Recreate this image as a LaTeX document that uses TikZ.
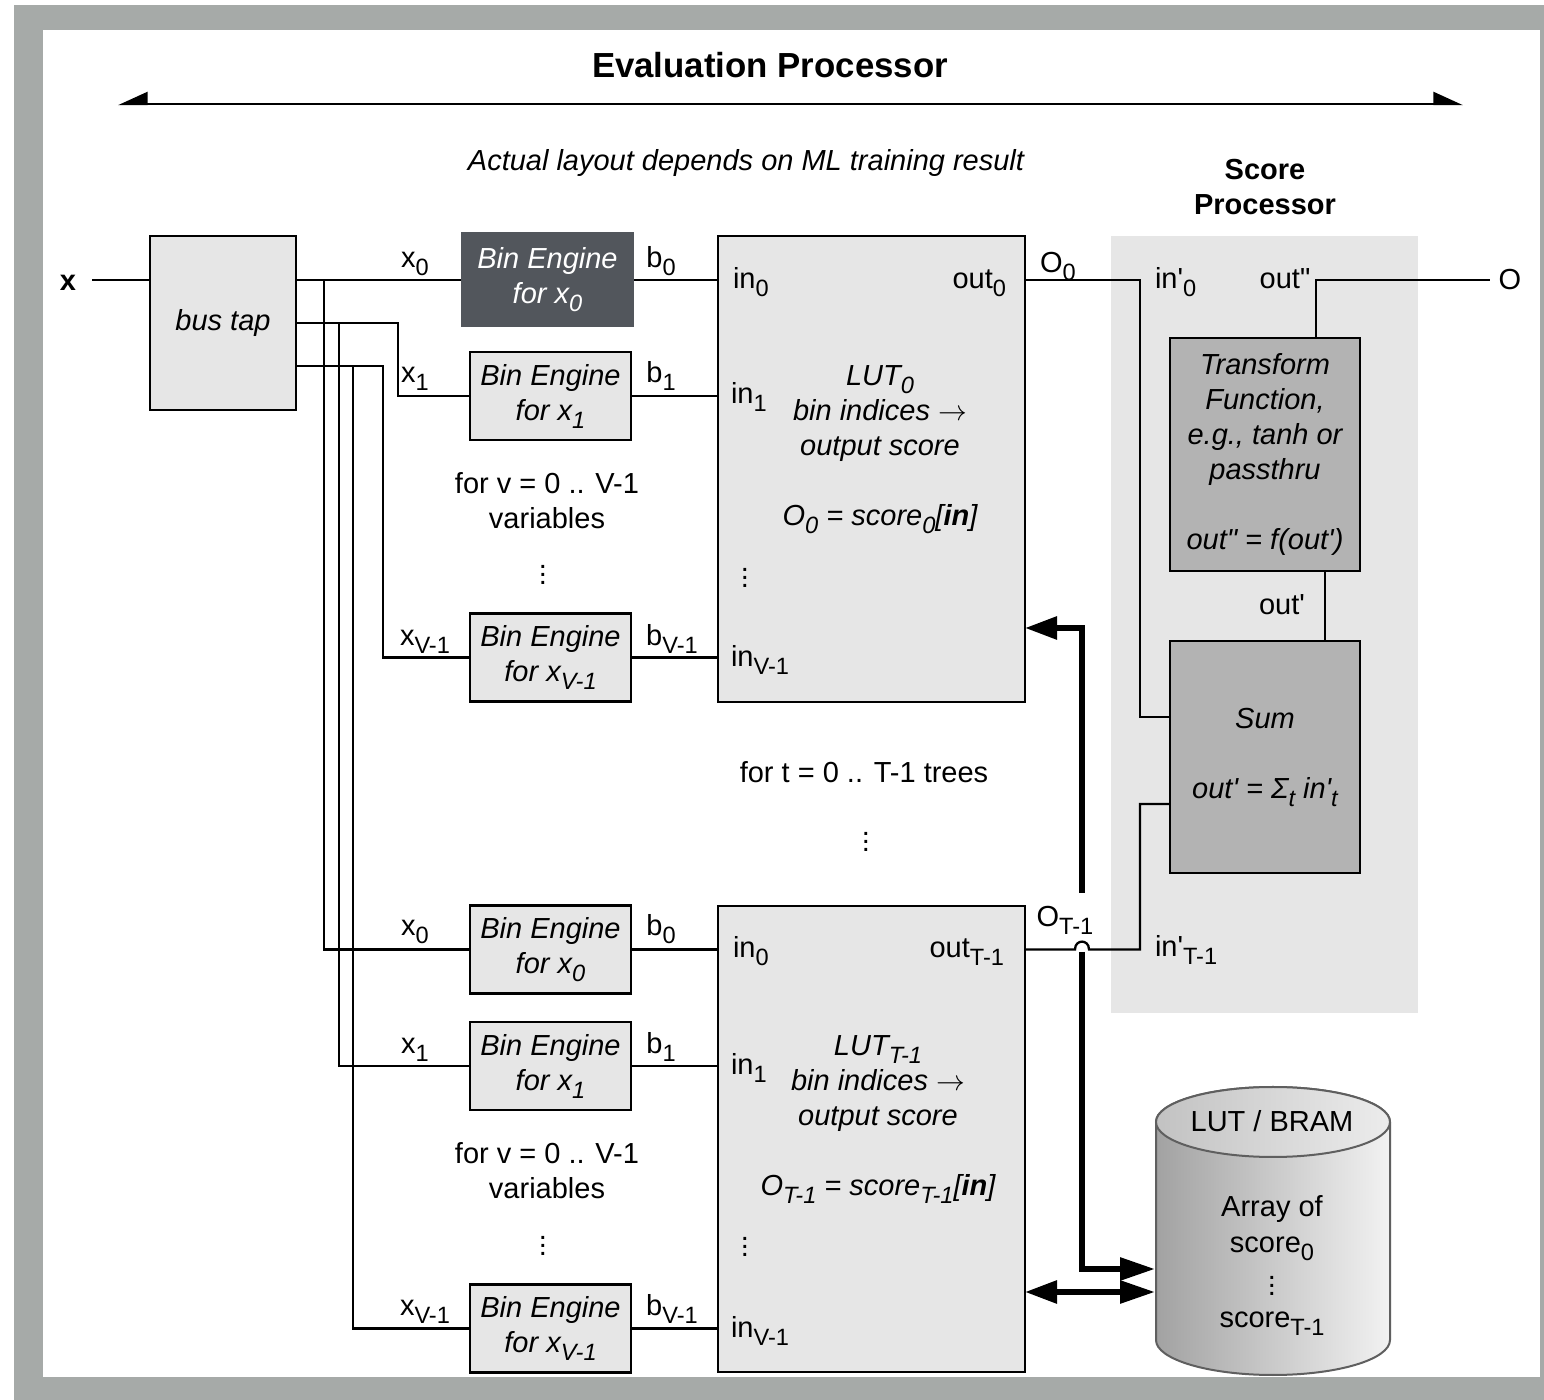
\documentclass[tikz,border=0pt]{standalone}
\usepackage{fontspec}
\setmainfont{Liberation Sans}[Ligatures=TeXOff]
\usetikzlibrary{arrows.meta}
\definecolor{framegray}{HTML}{A6AAA8}
\definecolor{boxfill}{HTML}{E6E6E6}
\definecolor{darkbox}{HTML}{52565C}
\definecolor{midbox}{HTML}{B3B3B3}
\definecolor{cylline}{HTML}{5F5F5F}
\definecolor{cylL}{HTML}{A2A2A2}
\definecolor{cylR}{HTML}{F2F2F2}
\definecolor{cyltL}{HTML}{C2C2C2}
\definecolor{cyltR}{HTML}{ECECEC}
\newcommand{\fs}{\fontsize{14.5}{17.5}\selectfont}
\newcommand{\sbs}[1]{\raisebox{-4pt}{\fontsize{11.8}{12}\selectfont #1}}
\tikzset{
  wire/.style={line width=1.15pt},
  fat/.style={line width=2.9pt},
  lbox/.style={draw, line width=1.15pt, fill=boxfill},
  mbox/.style={draw, line width=1.15pt, fill=midbox, minimum width=95pt, align=center, font=\fs\itshape},
  bebox/.style={lbox, minimum width=80.5pt, minimum height=44pt, align=center, font=\fs\itshape},
  lutbox/.style={lbox, minimum width=153.5pt, minimum height=233pt},
  lbl/.style={anchor=base},
  lblw/.style={anchor=base west},
  lble/.style={anchor=base east}
}
\begin{document}
\begin{tikzpicture}[x=0.5pt,y=-0.5pt, every node/.style={inner sep=0pt, outer sep=0pt, font=\fs}]
\useasboundingbox (0,0) rectangle (1544,1400);
% frame
\fill[white] (0,0) rectangle (1544,1400);
\fill[framegray] (14,5) rectangle (1544,1400);
\fill[white] (43,30) rectangle (1540,1377);
% titles
\node[font=\fontsize{17.4}{20}\selectfont\bfseries] (title) at (770,65) {Evaluation Processor};
\coordinate (evl) at (118,104);
\coordinate (evr) at (1463,104);
\draw[wire, {Triangle[harpoon,swap,length=13.5pt,width=12pt]}-{Triangle[harpoon,length=13.5pt,width=12pt]}] (evl) -- (evr);
\node[font=\fs\itshape] (note) at (746,163) {Actual layout depends on ML training result};
\node[font=\fs\bfseries, align=center] (sptitle) at (1265,187) {Score\\Processor};
% score region
\fill[boxfill] (1111,236) rectangle (1418,1013);
% boxes
\node[lbox, minimum width=73pt, minimum height=87pt, font=\fs\itshape] (bustap) at (223,323) {bus tap};
\node[fill=darkbox, text=white, minimum width=86.5pt, minimum height=47.5pt, align=center, font=\fs\itshape] (be0) at (547.5,280) {Bin Engine\\for x\sbs{0}};
\node[bebox] (be1) at (550.5,396) {Bin Engine\\for x\sbs{1}};
\node[bebox] (beV) at (550.5,657.5) {Bin Engine\\for x\sbs{V-1}};
\node[bebox] (be0b) at (550.5,949.5) {Bin Engine\\for x\sbs{0}};
\node[bebox] (be1b) at (550.5,1066) {Bin Engine\\for x\sbs{1}};
\node[bebox] (beVb) at (550.5,1328.5) {Bin Engine\\for x\sbs{V-1}};
\node[lutbox] (lut0) at (871.5,469) {};
\node[lutbox] (lutT) at (871.5,1139) {};
\node[mbox, minimum height=116.5pt] (tf) at (1265,454.5) {Transform\\Function,\\e.g., tanh or\\passthru\\[17.5pt]out" = f(out')};
\node[mbox, minimum height=116pt] (sum) at (1265,757) {Sum\\[17.5pt]out' = Σ\sbs{t} in'\sbs{t}};
% cylinder
\shadedraw[left color=cylL, right color=cylR, draw=cylline, line width=1pt] (1156,1122) -- (1156,1340) arc[start angle=180,end angle=0,x radius=117,y radius=35] -- (1390,1122) arc[start angle=0,end angle=-180,x radius=117,y radius=35] -- cycle;
\shadedraw[left color=cyltL, right color=cyltR, draw=cylline, line width=1pt] (1273,1122) ellipse[x radius=117,y radius=35];
\node[lbl] (bramt) at (1272,1132) {LUT / BRAM};
\node[lbl] (arr) at (1272,1217) {Array of};
\node[lbl] (sc0) at (1272,1253) {score\sbs{0}};
\node (scd) at (1272,1280) {$\vdots$};
\node[lbl] (scT) at (1272,1327) {score\sbs{T-1}};
% input wires
\node[font=\fs\bfseries] (xlab) at (68,283) {x};
\coordinate (xs) at (92,280);
\draw[wire] (xs) -- (xs -| bustap.west);
\draw[wire] (bustap.east |- be0.west) -- (be0.west);
\draw[wire] (bustap.east) -- ++(102,0) |- (be1.west);
\coordinate (bt2) at ([yshift=-21.5pt]bustap.east);
\draw[wire] (bt2) -- ++(87,0) |- (beV.west);
\coordinate (j0) at (324,280);
\coordinate (j1) at (339,323);
\coordinate (j2) at (353,366);
\draw[wire] (j0) |- (be0b.west);
\draw[wire] (j1) |- (be1b.west);
\draw[wire] (j2) |- (beVb.west);
\foreach \b/\l in {be0/lut0, be1/lut0, beV/lut0, be0b/lutT, be1b/lutT, beVb/lutT}
  \draw[wire] (\b.east) -- (\l.west |- \b.east);
% outputs
\coordinate (sbus) at (1140,500);
\coordinate (sbus2) at (1140,900);
\draw[wire] (lut0.east |- be0.east) -| (sbus) |- ([yshift=20pt]sum.west);
\coordinate (jl) at (1075,949.5);
\coordinate (jr) at (1089,949.5);
\draw[wire] (lutT.east |- be0b.east) -- (jl) .. controls (1075,939) and (1089,939) .. (jr) -| (sbus2) |- ([yshift=-23.5pt]sum.west);
\coordinate (oend) at (1490,280);
\draw[wire] ([xshift=25.5pt]tf.north) |- (oend);
\draw[wire] ([xshift=30pt]tf.south) -- ([xshift=30pt]sum.north);
% thick connectors
\coordinate (tk1) at (1082,893);
\coordinate (tkup) at (1082,628);
\draw[fat, -{Triangle[length=16pt,width=11pt]}] (tk1) -- (tkup) -- (lut0.east |- tkup);
\coordinate (tk2) at (1082,952);
\coordinate (cylA) at (1155,1269);
\coordinate (cylB) at (1155,1292);
\draw[fat, -{Triangle[length=17.5pt,width=11pt]}] (tk2) |- (cylA);
\draw[fat, {Triangle[length=16pt,width=11pt]}-{Triangle[length=17.5pt,width=11pt]}] (lutT.east |- cylB) -- (cylB);
% LUT texts
\node[align=center, font=\fs\itshape] (lut0t) at (880,450) {LUT\sbs{0}\\bin indices $\rightarrow$\\output score\\[17.5pt]O\sbs{0} = score\sbs{0}[\textbf{in}]};
\node[align=center, font=\fs\itshape] (lutTt) at (878,1120) {LUT\sbs{T-1}\\bin indices $\rightarrow$\\output score\\[17.5pt]O\sbs{T-1} = score\sbs{T-1}[\textbf{in}]};
\node (d1) at (745,572) {$\vdots$};
\node (d2) at (745,1241) {$\vdots$};
\node (d3) at (543,569) {$\vdots$};
\node (d4) at (543,1240) {$\vdots$};
\node (d5) at (866,836) {$\vdots$};
\node[align=center] (forv) at (547,501) {for v = 0 .. V-1\\variables};
\node[align=center] (forvb) at (547,1171) {for v = 0 .. V-1\\variables};
\node (fort) at (864,772) {for t = 0 .. T-1 trees};
% wire labels
\node[lbl] (lx0) at (415,268) {x\sbs{0}};
\node[lbl] (lx1) at (415,383) {x\sbs{1}};
\node[lbl] (lxV) at (425,646) {x\sbs{V-1}};
\node[lbl] (lb0) at (661,268) {b\sbs{0}};
\node[lbl] (lb1) at (661,383) {b\sbs{1}};
\node[lbl] (lbV) at (672,646) {b\sbs{V-1}};
\node[lbl] (lx0b) at (415,936) {x\sbs{0}};
\node[lbl] (lx1b) at (415,1054) {x\sbs{1}};
\node[lbl] (lxVb) at (425,1316) {x\sbs{V-1}};
\node[lbl] (lb0b) at (661,936) {b\sbs{0}};
\node[lbl] (lb1b) at (661,1054) {b\sbs{1}};
\node[lbl] (lbVb) at (672,1316) {b\sbs{V-1}};
\node[lblw] (in0) at (733,289) {in\sbs{0}};
\node[lblw] (in1) at (731,404) {in\sbs{1}};
\node[lblw] (inV) at (731,667) {in\sbs{V-1}};
\node[lblw] (in0b) at (733,958) {in\sbs{0}};
\node[lblw] (in1b) at (731,1075) {in\sbs{1}};
\node[lblw] (inVb) at (731,1338) {in\sbs{V-1}};
\node[lble] (out0) at (1006,289) {out\sbs{0}};
\node[lble] (outT) at (1004,958) {out\sbs{T-1}};
\node[lbl] (lo0) at (1058,273) {O\sbs{0}};
\node[lbl] (loT) at (1065,927) {O\sbs{T-1}};
\node[lblw] (ip0) at (1155,289) {in'\sbs{0}};
\node[lblw] (ipT) at (1155,957) {in'\sbs{T-1}};
\node[lbl] (opp) at (1285,289) {out"};
\node[lbl] (op) at (1282,615) {out'};
\node[lbl] (olab) at (1510,290) {O};
\end{tikzpicture}
\end{document}
